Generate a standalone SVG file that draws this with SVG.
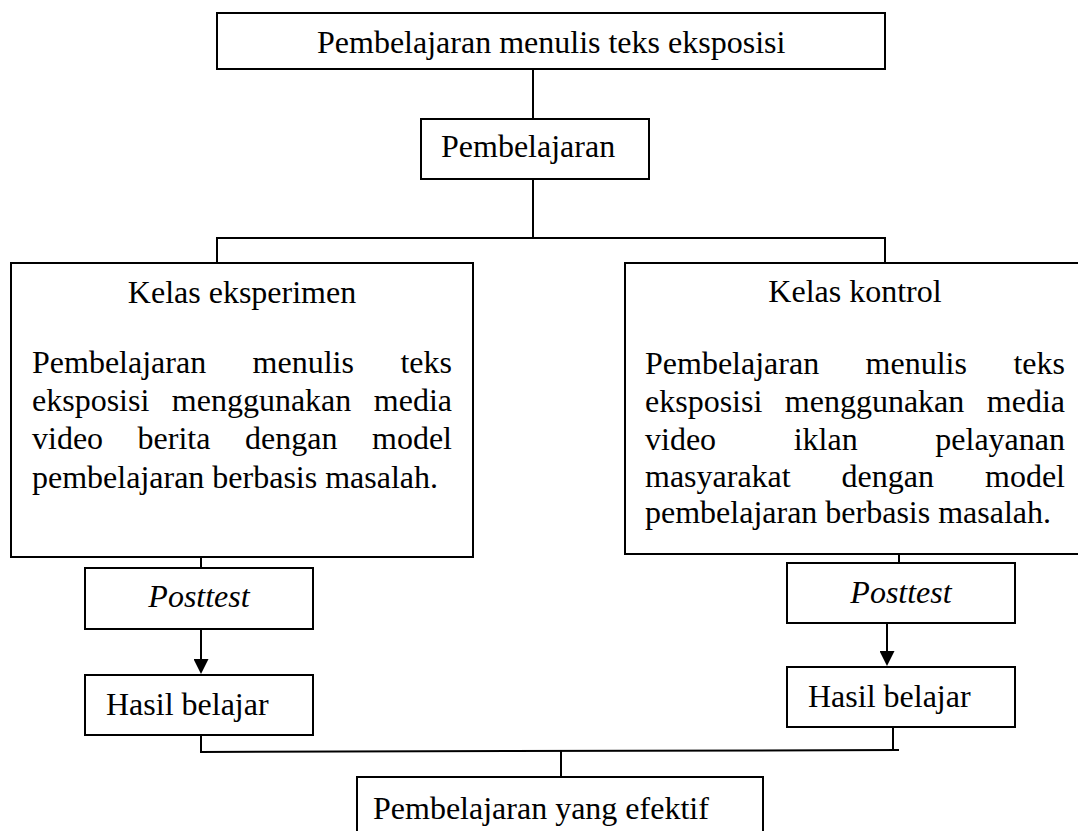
<svg xmlns="http://www.w3.org/2000/svg" width="1078" height="831" viewBox="0 0 1078 831">
<style>
.box{fill:#fff;stroke:#000;stroke-width:2}
.t{font-family:"Liberation Serif","Times New Roman",serif;font-size:32px;fill:#000}
.i{font-style:italic}
.c{stroke:#000;stroke-width:2;fill:none}
</style>
<defs>
<marker id="ah" viewBox="0 0 10 10" refX="0" refY="5" markerWidth="16" markerHeight="15" markerUnits="userSpaceOnUse" orient="auto">
<path d="M0,0 L10,5 L0,10 z" fill="#000"/>
</marker>
</defs>
<rect width="1078" height="831" fill="#fff"/>
<g id="connectors">
<line class="c" x1="533" y1="69" x2="533" y2="119"/>
<line class="c" x1="533" y1="179" x2="533" y2="238"/>
<line class="c" x1="216" y1="238" x2="886" y2="238"/>
<line class="c" x1="217" y1="238" x2="217" y2="263"/>
<line class="c" x1="885" y1="238" x2="885" y2="263"/>
<line class="c" x1="201" y1="527" x2="201" y2="568"/>
<line class="c" x1="201" y1="612" x2="201" y2="659" marker-end="url(#ah)"/>
<line class="c" x1="201" y1="718" x2="201" y2="753"/>
<line class="c" x1="899" y1="528" x2="899" y2="563"/>
<line class="c" x1="887" y1="605" x2="887" y2="651" marker-end="url(#ah)"/>
<line class="c" x1="893" y1="708" x2="893" y2="750"/>
<line class="c" x1="200" y1="752" x2="899" y2="750"/>
<line class="c" x1="561" y1="751" x2="561" y2="777"/>
</g>
<g id="top">
<rect class="box" x="217" y="13" width="668" height="56"/>
<text class="t" x="317" y="53">Pembelajaran menulis teks eksposisi</text>
</g>
<g id="pembelajaran">
<rect class="box" x="421" y="119" width="228" height="60"/>
<text class="t" x="441" y="157">Pembelajaran</text>
</g>
<g id="kelas-eksperimen">
<rect class="box" x="11" y="263" width="462" height="294"/>
<text class="t" x="242" y="303" text-anchor="middle">Kelas eksperimen</text>
<text class="t" y="373"><tspan x="32">Pembelajaran</tspan><tspan x="252.6">menulis</tspan><tspan x="452" text-anchor="end">teks</tspan></text>
<text class="t" y="411"><tspan x="32">eksposisi</tspan><tspan x="171.8">menggunakan</tspan><tspan x="452" text-anchor="end">media</tspan></text>
<text class="t" y="449"><tspan x="32">video</tspan><tspan x="137.6">berita</tspan><tspan x="245.1">dengan</tspan><tspan x="452" text-anchor="end">model</tspan></text>
<text class="t" x="32" y="488">pembelajaran berbasis masalah.</text>
</g>
<g id="kelas-kontrol">
<rect class="box" x="625" y="263" width="470" height="291"/>
<text class="t" x="855" y="302" text-anchor="middle">Kelas kontrol</text>
<text class="t" y="374"><tspan x="645">Pembelajaran</tspan><tspan x="865.6">menulis</tspan><tspan x="1065" text-anchor="end">teks</tspan></text>
<text class="t" y="412"><tspan x="645">eksposisi</tspan><tspan x="784.8">menggunakan</tspan><tspan x="1065" text-anchor="end">media</tspan></text>
<text class="t" y="450"><tspan x="645">video</tspan><tspan x="793.7">iklan</tspan><tspan x="1065" text-anchor="end">pelayanan</tspan></text>
<text class="t" y="487"><tspan x="645">masyarakat</tspan><tspan x="841.6">dengan</tspan><tspan x="1065" text-anchor="end">model</tspan></text>
<text class="t" x="645" y="523">pembelajaran berbasis masalah.</text>
</g>
<g id="posttest-eksperimen">
<rect class="box" x="85" y="568" width="228" height="61"/>
<text class="t i" x="199" y="607" text-anchor="middle">Posttest</text>
</g>
<g id="hasil-eksperimen">
<rect class="box" x="85" y="675" width="228" height="60"/>
<text class="t" x="106" y="715">Hasil belajar</text>
</g>
<g id="posttest-kontrol">
<rect class="box" x="787" y="563" width="228" height="60"/>
<text class="t i" x="901" y="603" text-anchor="middle">Posttest</text>
</g>
<g id="hasil-kontrol">
<rect class="box" x="787" y="667" width="228" height="60"/>
<text class="t" x="808" y="707">Hasil belajar</text>
</g>
<g id="efektif">
<rect class="box" x="357" y="777" width="406" height="60"/>
<text class="t" x="373" y="819">Pembelajaran yang efektif</text>
</g>
</svg>
